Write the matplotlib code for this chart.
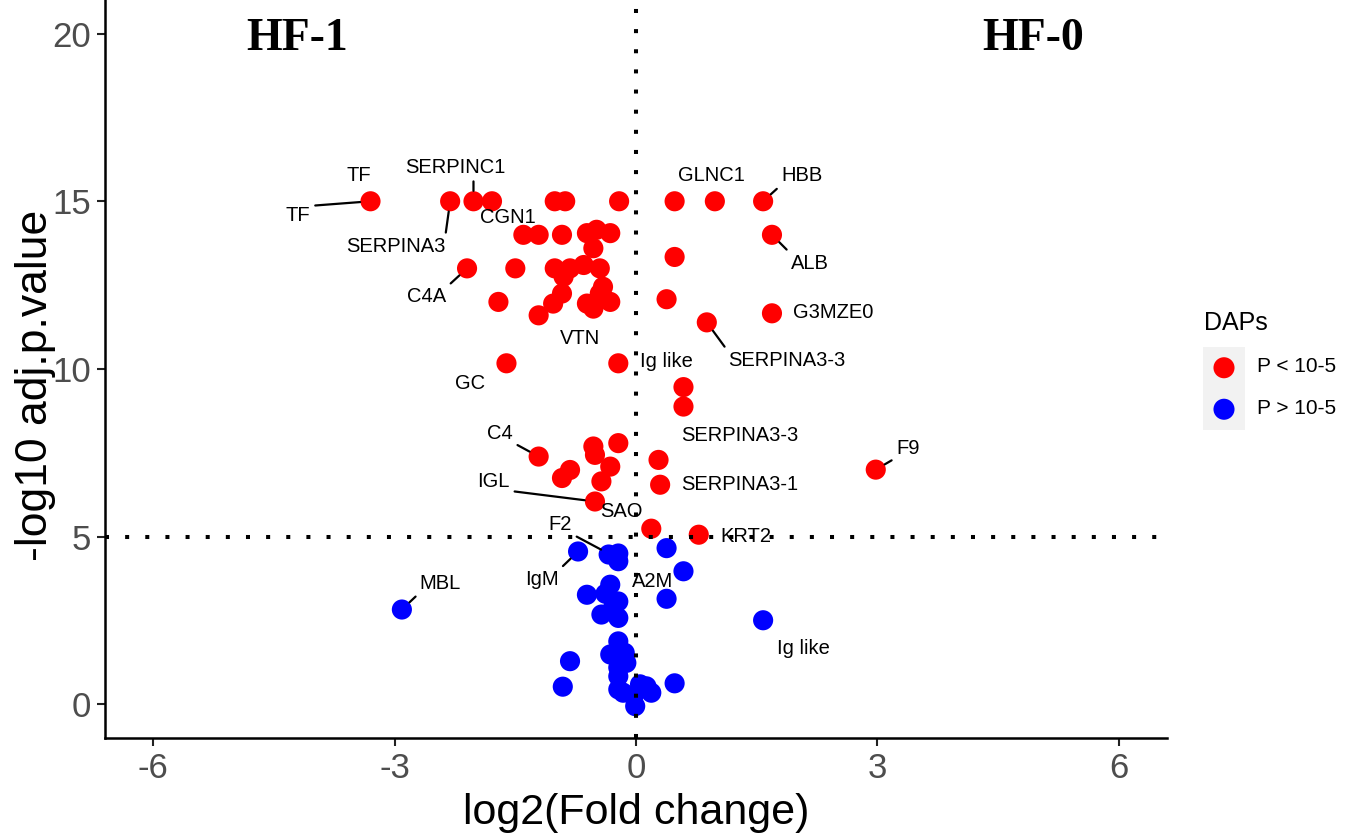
import matplotlib
matplotlib.use("Agg")
import matplotlib.pyplot as plt

# ---------------- data ----------------
red_x = [-3.30, -2.31, -2.02, -1.79, -1.01, -0.88, -0.21, 0.48, 0.98, 1.58,
         -1.40, -1.21, -0.92, -0.61, -0.49, -0.32, -0.53, 1.69,
         -2.10, -1.50, -1.01, -0.82, -0.65, -0.45, -0.90, -0.41, 0.48,
         -1.71, -1.21, -1.03, -0.92, -0.61, -0.53, -0.32, -0.45,
         0.38, 1.69, 0.88, -1.61, -0.22, 0.59, 0.59,
         -0.22, -0.53, -0.51, 0.28, -1.21, -0.82, -0.92, -0.32, -0.43, 0.30, 2.98, -0.51,
         0.19, 0.78]
red_y = [15.0, 15.0, 15.0, 15.0, 15.0, 15.0, 15.0, 15.0, 15.0, 15.0,
         14.0, 14.0, 14.0, 14.05, 14.15, 14.05, 13.6, 14.0,
         13.0, 13.0, 13.0, 13.0, 13.1, 13.0, 12.75, 12.45, 13.34,
         12.0, 11.6, 11.95, 12.25, 11.95, 11.8, 12.0, 12.25,
         12.08, 11.66, 11.39, 10.17, 10.17, 9.46, 8.88,
         7.79, 7.69, 7.44, 7.29, 7.39, 6.99, 6.75, 7.09, 6.65, 6.55, 7.0, 6.05,
         5.24, 5.06]

blue_x = [-2.91, -0.72, -0.34, -0.22, -0.22, 0.38, 0.59, 0.38, 1.58,
          -0.61, -0.32, -0.22, -0.43, -0.22, -0.28, -0.38,
          -0.22, -0.32, -0.14, -0.12, -0.82, -0.91, -0.22, -0.22, -0.03, -0.01,
          0.13, 0.19, 0.05, 0.48, -0.16, -0.22]
blue_y = [2.83, 4.56, 4.47, 4.50, 4.27, 4.66, 3.97, 3.15, 2.51,
          3.27, 3.57, 3.07, 2.68, 2.58, 2.93, 3.30,
          1.88, 1.49, 1.54, 1.24, 1.29, 0.53, 0.84, 0.45, 0.25, -0.05,
          0.54, 0.35, 0.60, 0.63, 0.35, 1.10]

# labels: text, point of the labelled protein, label position, segment?
lab_text = ["TF", "TF", "SERPINC1", "SERPINA3", "CGN1", "C4A", "VTN", "GC",
            "Ig like", "GLNC1", "HBB", "ALB", "G3MZE0", "SERPINA3-3",
            "SERPINA3-3", "SERPINA3-1", "F9", "KRT2", "SAO", "C4", "IGL",
            "F2", "IgM", "A2M", "MBL", "Ig like"]
lab_px = [-3.30, -3.30, -2.02, -2.31, -1.79, -2.10, -1.21, -1.61,
          -0.22, 0.98, 1.58, 1.69, 1.69, 0.88,
          0.59, 0.30, 2.98, 0.78, 0.19, -1.21, -0.51,
          -0.32, -0.72, 0.38, -2.91, 1.58]
lab_py = [15.0, 15.0, 15.0, 15.0, 15.0, 13.0, 11.6, 10.17,
          10.17, 15.0, 15.0, 14.0, 11.66, 11.39,
          8.88, 6.55, 7.0, 5.06, 5.24, 7.39, 6.05,
          4.47, 4.56, 3.15, 2.83, 2.51]
lab_tx = [-3.45, -4.20, -2.25, -2.99, -1.59, -2.60, -0.70, -2.06,
          0.38, 0.94, 2.06, 2.16, 2.45, 1.87,
          1.29, 1.29, 3.38, 1.37, -0.18, -1.69, -1.77,
          -0.94, -1.17, 0.21, -2.43, 2.08]
lab_ty = [15.77, 14.58, 16.02, 13.64, 14.53, 12.15, 10.91, 9.57,
          10.22, 15.77, 15.77, 13.15, 11.69, 10.25,
          8.01, 6.55, 7.64, 5.01, 5.75, 8.09, 6.65,
          5.36, 3.72, 3.67, 3.62, 1.66]
lab_seg = [False, True, True, True, False, True, False, False,
           False, False, True, True, False, True,
           False, False, True, False, False, True, True,
           True, True, False, True, False]

x_ticks = [-6, -3, 0, 3, 6]
y_ticks = [0, 5, 10, 15, 20]
legend_labels = ["P < 10-5", "P > 10-5"]
legend_colors = ["#FF0000", "#0000FF"]

# ---------------- figure ----------------
plt.rcParams['font.family'] = ['Liberation Sans', 'DejaVu Sans']
W, H = 1349, 840
fig = plt.figure(figsize=(W / 100, H / 100), dpi=100)
ax = fig.add_axes([105 / W, 1 - 738 / H, (1167 - 105) / W, 738 / H])

ax.scatter(red_x, red_y, s=210, c="#FF0000", edgecolors="none", zorder=2)
ax.scatter(blue_x, blue_y, s=210, c="#0000FF", edgecolors="none", zorder=2)

ax.axvline(0, color="black", lw=2.9, ls=(0, (1, 4)), zorder=3)
ax.axhline(5, color="black", lw=2.9, ls=(0, (1, 4)), zorder=3)

ax.set_xlim(-6.6, 6.6)
ax.set_ylim(-1, 21)

LFS = 14.5
# first pass: measure label boxes so segments start at the nearest box point (ggrepel style)
fig.canvas.draw()
renderer = fig.canvas.get_renderer()
for t, px, py, tx, ty, seg in zip(lab_text, lab_px, lab_py, lab_tx, lab_ty, lab_seg):
    if not seg:
        ax.text(tx, ty, t, ha="center", va="center", fontsize=LFS,
                color="black", zorder=4)
        continue
    tmp = ax.text(tx, ty, t, ha="center", va="center", fontsize=LFS)
    bb = tmp.get_window_extent(renderer)
    tmp.remove()
    ppx, ppy = ax.transData.transform((px, py))
    rx = min(max((ppx - bb.x0) / bb.width, 0.0), 1.0)
    ry = min(max((ppy - bb.y0) / bb.height, 0.0), 1.0)
    ax.annotate(t, xy=(px, py), xytext=(tx, ty), ha="center", va="center",
                fontsize=LFS, color="black", zorder=4,
                arrowprops=dict(arrowstyle="-", color="black", lw=1.6,
                                shrinkA=1.5, shrinkB=7.5, relpos=(rx, ry)))

ax.text(-4.21, 19.85, "HF-1", ha="center", va="center", fontsize=33,
        fontweight="bold", family="Liberation Serif")
ax.text(4.93, 19.85, "HF-0", ha="center", va="center", fontsize=33,
        fontweight="bold", family="Liberation Serif")

ax.set_xticks(x_ticks)
ax.set_xticklabels([str(v) for v in x_ticks])
ax.set_yticks(y_ticks)
ax.set_yticklabels([str(v) for v in y_ticks])
ax.tick_params(axis="both", labelsize=25, labelcolor="#4D4D4D", color="#222222",
               length=6, width=1.5, pad=4)
for s in ["top", "right"]:
    ax.spines[s].set_visible(False)
for s in ["left", "bottom"]:
    ax.spines[s].set_linewidth(1.8)
    ax.spines[s].set_color("black")

ax.set_xlabel("log2(Fold change)", fontsize=31, labelpad=6)
ax.set_ylabel("-log10 adj.p.value", fontsize=32)
ax.yaxis.set_label_coords(-0.046, 0.478)

# ---------------- legend ----------------
fig.text(1204 / W, 1 - 323 / H, "DAPs", fontsize=18, ha="left", va="center")
kax = fig.add_axes([1203 / W, 1 - 430 / H, 42 / W, 83 / H])
kax.set_facecolor("#F2F2F2")
kax.set_xlim(0, 1)
kax.set_ylim(0, 2)
for sp in kax.spines.values():
    sp.set_visible(False)
kax.set_xticks([])
kax.set_yticks([])
for i, (lab, col) in enumerate(zip(legend_labels, legend_colors)):
    yk = 1.5 - i
    kax.scatter([0.5], [yk], s=230, c=col, edgecolors="none")
    fig.text(1257 / W, 1 - (367 + 41 * i) / H, lab, fontsize=15, ha="left", va="center")

fig.savefig("out.png", dpi=100)
